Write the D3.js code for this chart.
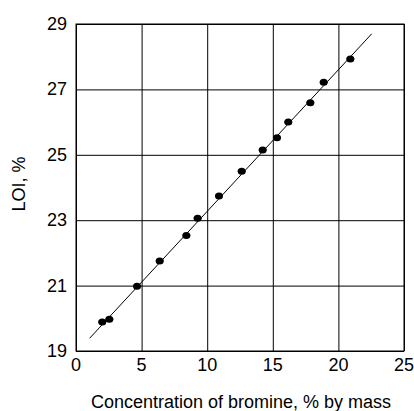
<!DOCTYPE html>
<html><head><meta charset="utf-8">
<script src="https://cdn.jsdelivr.net/npm/d3@7"></script>
<style>body{margin:0;background:#fff}svg{display:block}text{font-family:"Liberation Sans",Arial,sans-serif;fill:#000}</style>
</head><body><svg id="c" width="414" height="411"></svg>
<script>
const bromine = [2.0, 2.54, 4.65, 6.38, 8.41, 9.27, 10.9, 12.63, 14.23, 15.32, 16.18, 17.86, 18.88, 20.91];
const loi = [19.89, 19.97, 20.98, 21.75, 22.53, 23.06, 23.74, 24.50, 25.15, 25.52, 26.0, 26.59, 27.22, 27.93];
const xErr = [0.3, 0.3, 0.3, 0.3, 0.3, 0.3, 0.3, 0.3, 0.3, 0.3, 0.3, 0.3, 0.3, 0.3];
const fitX = [1.04, 22.54];
const fitY = [19.39, 28.70];
const xTicks = [0, 5, 10, 15, 20, 25];
const yTicks = [19, 21, 23, 25, 27, 29];

const svg = d3.select("#c");
const L = 76, R = 404, T = 24, B = 351;
const x = d3.scaleLinear().domain([0, 25]).range([L, R]);
const y = d3.scaleLinear().domain([19, 29]).range([B, T]);

// grid
svg.append("g").attr("transform", `translate(0,${B})`)
  .call(d3.axisBottom(x).tickValues(xTicks).tickSize(-(B - T)).tickFormat(""))
  .call(g => g.select(".domain").remove())
  .call(g => g.selectAll("line").attr("stroke", "#000").attr("stroke-width", 1));
svg.append("g").attr("transform", `translate(${L},0)`)
  .call(d3.axisLeft(y).tickValues(yTicks).tickSize(-(R - L)).tickFormat(""))
  .call(g => g.select(".domain").remove())
  .call(g => g.selectAll("line").attr("stroke", "#000").attr("stroke-width", 1));
svg.append("rect").attr("x", L).attr("y", T).attr("width", R - L).attr("height", B - T)
  .attr("fill", "none").attr("stroke", "#000").attr("stroke-width", 1);

// tick labels
svg.append("g").selectAll("text").data(xTicks).join("text")
  .attr("x", d => x(d)).attr("y", B + 20).attr("text-anchor", "middle")
  .attr("font-size", 18).text(d => d);
svg.append("g").selectAll("text").data(yTicks).join("text")
  .attr("x", L - 9).attr("y", d => y(d) + 6).attr("text-anchor", "end")
  .attr("font-size", 18).text(d => d);

// titles
svg.append("text").attr("x", 241).attr("y", 408).attr("text-anchor", "middle")
  .attr("font-size", 18).text("Concentration of bromine, % by mass");
svg.append("text").attr("transform", `translate(25,184) rotate(-90)`)
  .attr("text-anchor", "middle").attr("font-size", 18).text("LOI, %");

// fit line
svg.append("line").attr("x1", x(fitX[0])).attr("y1", y(fitY[0]))
  .attr("x2", x(fitX[1])).attr("y2", y(fitY[1])).attr("stroke", "#000").attr("stroke-width", 1);

const pts = bromine.map((b, i) => ({b, l: loi[i], e: xErr[i]}));
svg.append("g").selectAll("line").data(pts).join("line")
  .attr("x1", d => x(d.b - d.e)).attr("x2", d => x(d.b + d.e))
  .attr("y1", d => y(d.l)).attr("y2", d => y(d.l))
  .attr("stroke", "#666").attr("stroke-width", 2);
svg.append("g").selectAll("ellipse").data(pts).join("ellipse")
  .attr("cx", d => x(d.b)).attr("cy", d => y(d.l)).attr("rx", 4).attr("ry", 3.5)
  .attr("fill", "#000");
</script></body></html>
